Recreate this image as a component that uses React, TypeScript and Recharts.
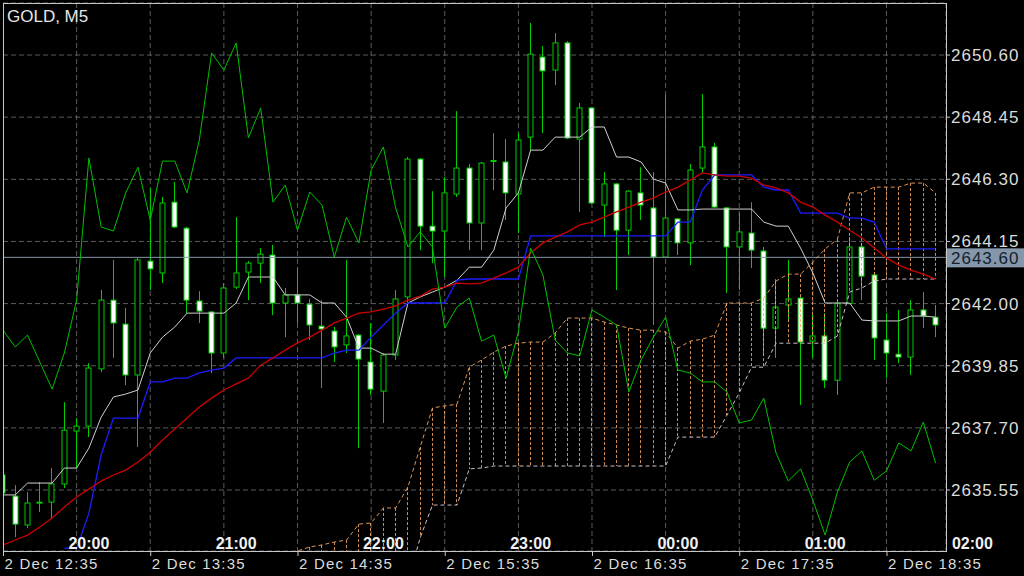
import { ComposedChart, Bar, Line, XAxis, YAxis, CartesianGrid, ReferenceLine } from "recharts";

const FONT = "'Liberation Sans', Arial, sans-serif";
const GREEN = "#00cc00";
const SANDY = "#f4a460";
const THISTLE = "#cdbdcd";

const symbol = "GOLD, M5";
const dateLabels = ["2 Dec 12:35", "2 Dec 13:35", "2 Dec 14:35", "2 Dec 15:35", "2 Dec 16:35", "2 Dec 17:35", "2 Dec 18:35"];
const dateBars = [0, 12, 24, 36, 48, 60, 72];
const gridBars = [0, 6, 12, 18, 24, 30, 36, 42, 48, 54, 60, 66, 72];
const hourLabels = ["20:00", "21:00", "22:00", "23:00", "00:00", "01:00", "02:00"];
const hourBars = [7, 19, 31, 43, 55, 67, 79];
const priceTicks = [2635.55, 2637.7, 2639.85, 2642.0, 2644.15, 2646.3, 2648.45, 2650.6];
const lastPrice = 2643.6;

const open = [
2636.07, 2635.34, 2634.34, 2635.10, 2635.13, 2635.76, 2637.59, 2637.76, 2639.74, 2642.12,
2641.29, 2639.53, 2643.47, 2643.06, 2645.51, 2644.61, 2642.09, 2641.71, 2640.29, 2642.57,
2643.09, 2643.40, 2643.68, 2642.02, 2642.30, 2641.98, 2641.22, 2641.05, 2640.57, 2640.91,
2639.98, 2638.97, 2640.22, 2642.23, 2647.00, 2644.68, 2644.51, 2645.79, 2646.69, 2644.79,
2646.95, 2646.90, 2645.79, 2647.76, 2650.53, 2650.08, 2651.02, 2647.69, 2648.77, 2645.41,
2646.14, 2644.54, 2645.83, 2645.31, 2643.61, 2644.93, 2644.10, 2646.69, 2647.42, 2645.31,
2643.96, 2644.44, 2643.82, 2641.15, 2641.95, 2642.19, 2640.70, 2640.88, 2639.35, 2642.00,
2643.96, 2642.99, 2640.74, 2640.25, 2640.15, 2641.78, 2641.53,
];
const close = [
2635.45, 2634.37, 2635.10, 2635.13, 2635.76, 2637.62, 2637.76, 2639.77, 2642.12, 2641.33,
2639.53, 2643.51, 2643.20, 2645.48, 2644.65, 2642.12, 2641.74, 2640.29, 2642.54, 2643.06,
2643.40, 2643.71, 2642.02, 2642.30, 2642.02, 2641.26, 2641.12, 2640.50, 2640.88, 2640.08,
2639.04, 2640.22, 2642.16, 2647.00, 2644.68, 2644.51, 2645.83, 2646.69, 2644.79, 2646.86,
2646.92, 2645.83, 2647.66, 2650.63, 2650.05, 2651.02, 2647.73, 2648.77, 2645.48, 2646.14,
2644.54, 2645.89, 2645.41, 2643.61, 2644.96, 2644.10, 2646.62, 2647.42, 2645.34, 2643.96,
2644.48, 2643.85, 2641.15, 2641.88, 2642.16, 2640.67, 2640.88, 2639.35, 2642.00, 2643.96,
2642.95, 2640.81, 2640.29, 2640.15, 2641.78, 2641.57, 2641.26,
];
const high = [
2636.14, 2635.72, 2635.48, 2635.83, 2636.31, 2638.59, 2638.04, 2639.94, 2642.47, 2643.51,
2641.85, 2643.58, 2646.00, 2645.69, 2646.21, 2644.65, 2642.43, 2641.74, 2642.71, 2644.99,
2643.47, 2643.92, 2644.03, 2642.54, 2643.23, 2642.16, 2642.12, 2641.19, 2643.51, 2640.94,
2641.33, 2640.29, 2642.47, 2647.07, 2647.04, 2645.89, 2646.38, 2648.66, 2646.83, 2646.90,
2647.90, 2647.69, 2647.90, 2651.71, 2650.91, 2651.36, 2651.08, 2648.94, 2648.80, 2646.55,
2646.17, 2645.93, 2646.72, 2646.55, 2649.22, 2644.96, 2646.83, 2649.25, 2647.56, 2645.34,
2645.13, 2645.51, 2643.96, 2642.85, 2643.51, 2642.23, 2641.60, 2641.67, 2642.05, 2644.30,
2644.10, 2643.09, 2641.67, 2641.78, 2642.12, 2642.40, 2641.95,
];
const low = [
2635.38, 2633.92, 2634.23, 2634.79, 2634.55, 2635.62, 2636.31, 2637.38, 2639.63, 2640.12,
2639.18, 2637.04, 2642.47, 2642.71, 2644.61, 2641.67, 2641.33, 2639.60, 2640.12, 2642.50,
2642.12, 2642.71, 2641.60, 2640.84, 2641.33, 2640.74, 2639.08, 2639.98, 2640.29, 2637.00,
2638.84, 2637.87, 2640.05, 2642.02, 2643.85, 2643.40, 2642.92, 2645.69, 2643.85, 2643.85,
2645.93, 2644.89, 2644.44, 2647.31, 2647.90, 2649.56, 2647.69, 2645.17, 2645.44, 2644.30,
2642.47, 2643.68, 2644.89, 2641.26, 2643.58, 2643.68, 2643.33, 2646.52, 2645.30, 2642.37,
2642.47, 2643.23, 2640.22, 2640.12, 2641.43, 2638.49, 2640.12, 2639.08, 2638.84, 2641.97,
2642.12, 2640.05, 2639.42, 2639.94, 2639.53, 2641.15, 2640.84,
];
const tenkan = [
2635.38, 2635.38, 2635.79, 2635.79, 2635.79, 2636.31, 2636.31, 2637.00, 2638.07, 2638.77,
2638.87, 2639.01, 2640.29, 2640.84, 2641.19, 2641.67, 2641.67, 2641.67, 2641.67, 2642.02,
2642.92, 2642.92, 2642.92, 2642.30, 2642.30, 2642.30, 2642.02, 2642.02, 2641.53, 2640.46,
2640.46, 2640.25, 2640.25, 2642.02, 2642.23, 2642.40, 2642.57, 2642.81, 2643.26, 2643.26,
2643.85, 2645.31, 2645.83, 2647.31, 2647.31, 2647.76, 2647.76, 2647.76, 2648.11, 2648.11,
2647.07, 2647.07, 2646.90, 2646.31, 2646.17, 2645.24, 2645.24, 2645.27, 2645.27, 2645.27,
2645.27, 2645.27, 2644.82, 2644.68, 2644.68, 2643.92, 2643.06, 2642.02, 2642.02, 2642.02,
2641.43, 2641.40, 2641.40, 2641.40, 2641.57, 2641.57, 2641.53,
];
const kijun = [
null, null, null, null, null, 2633.54, 2633.54, 2634.75, 2636.76, 2638.04,
2638.04, 2638.04, 2639.29, 2639.29, 2639.42, 2639.42, 2639.60, 2639.70, 2639.77, 2640.12,
2640.12, 2640.12, 2640.12, 2640.12, 2640.12, 2640.12, 2640.12, 2640.29, 2640.39, 2640.39,
2640.84, 2641.26, 2641.67, 2642.02, 2642.02, 2642.02, 2642.02, 2642.81, 2642.85, 2642.85,
2642.85, 2642.85, 2642.85, 2644.34, 2644.34, 2644.34, 2644.34, 2644.34, 2644.34, 2644.34,
2644.34, 2644.34, 2644.34, 2644.34, 2644.34, 2644.82, 2644.82, 2645.93, 2646.45, 2646.45,
2646.45, 2646.45, 2646.03, 2645.93, 2645.93, 2645.13, 2645.13, 2645.13, 2645.13, 2644.96,
2644.96, 2644.82, 2643.89, 2643.89, 2643.89, 2643.89, 2643.89,
];
const movingAvg = [
2633.65, 2633.82, 2633.99, 2634.27, 2634.58, 2634.96, 2635.31, 2635.58, 2635.86, 2636.07,
2636.24, 2636.52, 2636.86, 2637.28, 2637.66, 2638.04, 2638.42, 2638.73, 2639.01, 2639.22,
2639.42, 2639.87, 2640.12, 2640.39, 2640.64, 2640.84, 2641.08, 2641.33, 2641.50, 2641.67,
2641.71, 2641.81, 2641.92, 2642.12, 2642.26, 2642.50, 2642.57, 2642.71, 2642.68, 2642.71,
2642.88, 2643.06, 2643.26, 2643.75, 2644.10, 2644.30, 2644.48, 2644.72, 2644.82, 2644.99,
2645.17, 2645.34, 2645.51, 2645.65, 2645.86, 2646.03, 2646.27, 2646.52, 2646.45, 2646.41,
2646.41, 2646.34, 2646.10, 2646.00, 2645.83, 2645.51, 2645.34, 2645.06, 2644.82, 2644.54,
2644.27, 2643.92, 2643.58, 2643.33, 2643.16, 2643.02, 2642.85,
];
const chikou = [
2641.08, 2640.50, 2640.91, 2639.98, 2639.04, 2640.29, 2642.12, 2647.04, 2644.65, 2644.51,
2645.83, 2646.72, 2644.89, 2646.93, 2646.93, 2645.83, 2647.66, 2650.67, 2650.08, 2651.02,
2647.73, 2648.77, 2645.51, 2646.10, 2644.54, 2645.86, 2645.41, 2643.61, 2644.99, 2644.10,
2646.62, 2647.42, 2645.31, 2643.96, 2644.48, 2643.96, 2641.15, 2641.88, 2642.19, 2640.70,
2640.91, 2639.42, 2641.02, 2643.92, 2642.99, 2640.74, 2640.29, 2640.19, 2641.78, 2641.53,
2641.26, 2638.94, 2640.05, 2640.84, 2641.53, 2639.70, 2639.60, 2639.29, 2639.29, 2638.94,
2637.87, 2637.97, 2638.73, 2636.83, 2635.86, 2636.28, 2635.20, 2633.99, 2635.48, 2636.52,
2636.90, 2635.89, 2636.21, 2637.18, 2636.90, 2637.90, 2636.48,
];
const spanA = [
null, null, null, null, null, null, null, null, null, null,
null, null, null, null, null, null, null, null, null, null,
null, null, null, 2633.27, 2633.44, 2633.58, 2633.65, 2633.75, 2633.82, 2634.37,
2634.41, 2634.93, 2634.93, 2635.65, 2637.04, 2638.39, 2638.46, 2638.52, 2639.80, 2640.05,
2640.32, 2640.53, 2640.63, 2640.67, 2640.67, 2640.98, 2641.50, 2641.50, 2641.50, 2641.36,
2641.26, 2641.15, 2641.08, 2641.08, 2641.02, 2640.46, 2640.70, 2640.77, 2640.91, 2642.02,
2642.02, 2642.02, 2642.19, 2642.78, 2643.02, 2643.02, 2643.44, 2643.89, 2644.23, 2645.83,
2645.83, 2646.03, 2646.03, 2646.03, 2646.17, 2646.17, 2645.83,
];
const spanB = [
null, null, null, null, null, null, null, null, null, null,
null, null, null, null, null, null, null, null, null, null,
null, null, null, null, 2631.60, 2631.60, 2631.70, 2631.70, 2631.80, 2631.80,
2632.00, 2632.00, 2632.20, 2632.40, 2633.90, 2635.03, 2635.03, 2635.03, 2636.28, 2636.31,
2636.38, 2636.38, 2636.38, 2636.38, 2636.38, 2636.38, 2636.38, 2636.38, 2636.38, 2636.38,
2636.38, 2636.38, 2636.38, 2636.38, 2636.38, 2637.38, 2637.38, 2637.38, 2637.38, 2638.14,
2638.91, 2639.80, 2639.80, 2640.63, 2640.63, 2640.63, 2640.63, 2640.63, 2640.88, 2642.40,
2642.54, 2642.78, 2642.85, 2642.85, 2642.85, 2642.85, 2642.85,
];

const rows = open.map((o, i) => ({
  i,
  open: o,
  close: close[i],
  high: high[i],
  low: low[i],
  tenkan: tenkan[i],
  kijun: kijun[i],
  ma: movingAvg[i],
  chikou: chikou[i],
  spanA: spanA[i],
  spanB: spanB[i],
}));

function Candle(props: any) {
  const { x, y, width, height, payload } = props;
  if (x == null || y == null) return null;
  const { open: o, close: c, high: h, low: l } = payload;
  const cx = Math.floor(x + width / 2) + 0.5;
  const k = h - l !== 0 ? height / (h - l) : 0;
  const yo = y + (h - o) * k;
  const yc = y + (h - c) * k;
  const top = Math.min(yo, yc);
  const bh = Math.max(Math.abs(yc - yo), 1);
  const bull = c >= o;
  return (
    <g>
      <line x1={cx} x2={cx} y1={y} y2={y + height} stroke={GREEN} strokeWidth={1} />
      <rect x={cx - 2.5} y={top} width={5} height={bh} fill={bull ? "#000" : "#fff"} stroke={GREEN} strokeWidth={1} />
    </g>
  );
}

function Hatch(props: any) {
  const { x, y, width, height } = props;
  if (x == null || y == null || !height) return null;
  const cx = Math.floor(x + width / 2) + 0.5;
  const y1 = Math.min(y, y + height);
  const y2 = Math.max(y, y + height);
  return <line x1={cx} x2={cx} y1={y1} y2={y2} stroke={SANDY} strokeOpacity={0.85} strokeDasharray="3 2" />;
}

function DateTick(props: any) {
  const { x, y, payload } = props;
  const k = dateBars.indexOf(payload.value);
  if (k < 0) return null;
  return (
    <g>
      <line x1={x + 0.5} x2={x + 0.5} y1={y - 5} y2={y} stroke="#c8c8c8" />
      <text x={x + 1.5} y={y + 13} fill="#dcdcdc" fontSize={15} letterSpacing={1.2} fontFamily={FONT} textAnchor="start">
        {dateLabels[k]}
      </text>
    </g>
  );
}

function HourLabel(props: any) {
  const vb = props.viewBox;
  if (!vb) return null;
  return (
    <text x={vb.x} y={vb.y + vb.height - 2} fill="#f0f0f0" fontSize={16} fontWeight="bold" fontFamily={FONT} textAnchor="middle">
      {props.text}
    </text>
  );
}

function PriceTick(props: any) {
  const { x, y, payload } = props;
  return (
    <text x={x} y={y + 6} fill="#dcdcdc" fontSize={17} letterSpacing={1} fontFamily={FONT} textAnchor="start">
      {Number(payload.value).toFixed(2)}
    </text>
  );
}

function PriceTag(props: any) {
  const vb = props.viewBox;
  if (!vb) return null;
  const left = vb.x + vb.width + 1;
  return (
    <g>
      <rect x={left} y={vb.y - 9} width={1024 - left} height={19} fill="#8597ab" />
      <text x={left + 4} y={vb.y + 6.5} fill="#16202b" fontSize={17} letterSpacing={1} fontFamily={FONT}>
        {lastPrice.toFixed(2)}
      </text>
    </g>
  );
}

export default function App() {
  return (
    <div style={{ position: "absolute", left: 0, top: 0, width: 1024, height: 576, background: "#000", overflow: "hidden" }}>
      <ComposedChart width={1024} height={576} data={rows} margin={{ top: 3, right: 0, bottom: 0, left: 3 }}>
        <CartesianGrid stroke="#5c5c5c" strokeDasharray="5 3" />
        <XAxis
          dataKey="i"
          type="number"
          domain={[0, 76.85]}
          allowDataOverflow
          ticks={gridBars}
          interval={0}
          height={25}
          tickSize={5}
          tickMargin={0}
          axisLine={false}
          tickLine={false}
          tick={<DateTick />}
        />
        <XAxis xAxisId="cloud" dataKey="i" type="number" domain={[0, 76.85]} allowDataOverflow hide />
        <YAxis
          orientation="right"
          width={78}
          domain={[2633.44, 2652.4]}
          allowDataOverflow
          ticks={priceTicks}
          interval={0}
          tickSize={4}
          tickMargin={1}
          axisLine={false}
          tickLine={{ stroke: "#c8c8c8" }}
          tick={<PriceTick />}
        />
        <ReferenceLine y={lastPrice} stroke="#8394a8" strokeWidth={1} label={<PriceTag />} />
        <Bar dataKey={(d: any) => [d.low, d.high]} barSize={6} shape={<Candle />} isAnimationActive={false} />
        <Bar
          xAxisId="cloud"
          dataKey={(d: any) => (d.spanA != null && d.spanB != null ? [d.spanB, d.spanA] : null)}
          barSize={2}
          shape={<Hatch />}
          isAnimationActive={false}
        />
        <Line dataKey="spanA" stroke={SANDY} strokeOpacity={0.9} strokeDasharray="4 3" strokeWidth={1} dot={false} activeDot={false} type="linear" isAnimationActive={false} />
        <Line dataKey="spanB" stroke={THISTLE} strokeDasharray="4 3" strokeWidth={1} dot={false} activeDot={false} type="linear" isAnimationActive={false} />
        <Line dataKey="tenkan" stroke="#d0d0d0" strokeWidth={1} dot={false} activeDot={false} type="linear" isAnimationActive={false} />
        <Line dataKey="kijun" stroke="#1c1cff" strokeWidth={1.3} dot={false} activeDot={false} type="linear" isAnimationActive={false} />
        <Line dataKey="ma" stroke="#cc0000" strokeWidth={1.3} dot={false} activeDot={false} type="linear" isAnimationActive={false} />
        <Line dataKey="chikou" stroke="#00c000" strokeWidth={1} dot={false} activeDot={false} type="linear" isAnimationActive={false} />
        {hourBars.map((b, k) => (
          <ReferenceLine key={b} x={b} stroke="none" ifOverflow="visible" label={<HourLabel text={hourLabels[k]} />} />
        ))}
      </ComposedChart>
      <div style={{ position: "absolute", left: 0, top: 0, width: 3, height: 576, background: "#000" }} />
      <div style={{ position: "absolute", left: 3, top: 3, width: 942, height: 547, border: "1px solid #c8c8c8", pointerEvents: "none" }} />
      <div style={{ position: "absolute", left: 7, top: 8, fontFamily: FONT, fontSize: 17, lineHeight: "17px", color: "#e6e6e6" }}>{symbol}</div>
    </div>
  );
}
